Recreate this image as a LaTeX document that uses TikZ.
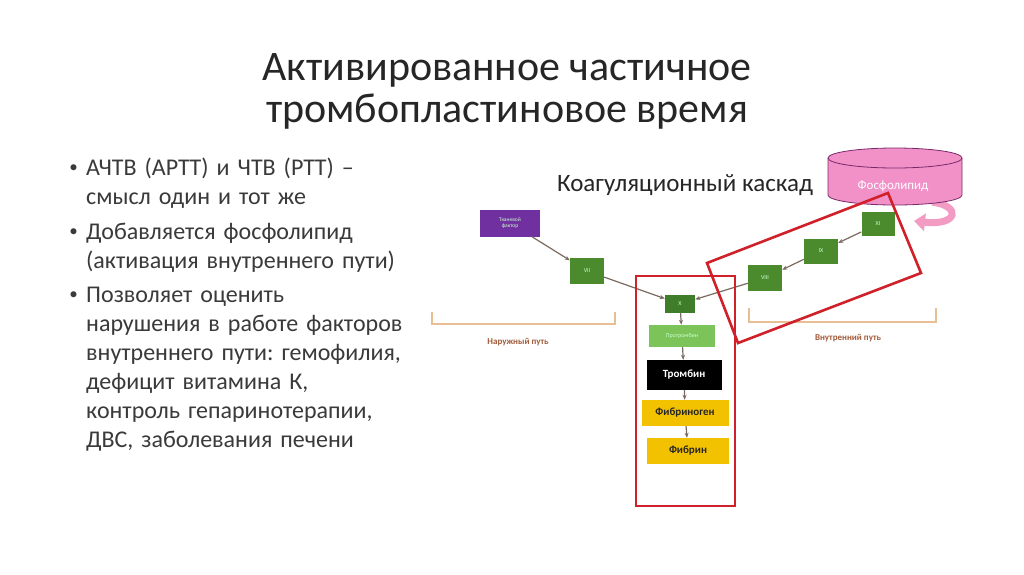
\documentclass[tikz,border=0pt]{standalone}
\usepackage{fontspec}
\setmainfont{Carlito}
\usetikzlibrary{positioning,arrows.meta}
\definecolor{titlec}{HTML}{262626}
\definecolor{textc}{HTML}{3A3A3A}
\definecolor{tfpurple}{HTML}{7030A0}
\definecolor{dgreen}{HTML}{4C8A2E}
\definecolor{xgreen}{HTML}{3F7D2A}
\definecolor{lgreen}{HTML}{7CC35A}
\definecolor{yellowc}{HTML}{F2C200}
\definecolor{redc}{HTML}{D0202A}
\definecolor{arrc}{HTML}{7A6A60}
\definecolor{brkc}{HTML}{E8BE94}
\definecolor{lblc}{HTML}{A35A3A}
\definecolor{phosc}{HTML}{F291C8}
\definecolor{phosd}{HTML}{7A2A6A}
\definecolor{curlc}{HTML}{F29CC4}
\tikzset{
  fac/.style={fill=dgreen, text=white!80!green, inner sep=0pt,
              minimum width=34pt, minimum height=26pt, font=\fontsize{6}{7}\selectfont},
  big/.style={inner sep=0pt, font=\fontsize{11}{12}\selectfont\bfseries},
  arr/.style={draw=arrc, line width=1.2pt, -{Stealth[length=5pt,width=4pt]}},
  redbox/.style={draw=redc, line width=2.6pt},
  brk/.style={draw=brkc, line width=1.6pt},
  pathlbl/.style={text=lblc, font=\fontsize{9}{10}\selectfont\bfseries},
  bul/.style={text=textc, font=\fontsize{24}{29}\selectfont\frenchspacing, text width=340pt,
              align=left, inner sep=0pt, anchor=north west}
}
\begin{document}
\begin{tikzpicture}[x=1pt,y=-1pt]
  \useasboundingbox[fill=white] (0,0) rectangle (1024,574);

  % title and text
  \node[text=titlec, font=\fontsize{42}{42}\selectfont, align=center] (title) at (507,91)
    {Активированное частичное\\тромбопластиновое время};

  \node[bul] (p1) at (86,158) {АЧТВ (АРТТ) и ЧТВ (РТТ) --\\смысл один и тот же};
  \node[bul, below=14pt of p1.south west, anchor=north west] (p2)
    {Добавляется фосфолипид\\(активация внутреннего пути)};
  \node[bul, below=14pt of p2.south west, anchor=north west] (p3)
    {Позволяет оценить\\нарушения в работе факторов\\внутреннего пути: гемофилия,\\дефицит витамина К,\\контроль гепаринотерапии,\\ДВС, заболевания печени};
  \foreach \p in {p1,p2,p3}
    \node[text=textc, font=\fontsize{17}{20}\selectfont, anchor=base east, inner sep=0pt]
      at ([xshift=-8pt,yshift=3pt]\p.base west) {•};

  \node[text=titlec, font=\fontsize{25}{27}\selectfont] (casc) at (685,185)
    {Коагуляционный каскад};

  % phospholipid
  \draw[curlc, line width=7pt, -{Triangle[width=17pt,length=11pt]}]
    (932,202) .. controls (962,206) and (958,226) .. (914,221);
  \fill[phosc] (828,158) -- (828,195) arc[start angle=180, end angle=0, x radius=67, y radius=10]
    -- (962,158) -- cycle;
  \draw[phosd, line width=0.8pt] (828,158) -- (828,195) arc[start angle=180, end angle=0, x radius=67, y radius=10]
    -- (962,158);
  \draw[phosd, line width=0.8pt, fill=phosc] (895,158) ellipse[x radius=67, y radius=10];
  \node[text=white, font=\fontsize{13}{14}\selectfont] (phos) at (893,186) {Фосфолипид};

  % factors
  \node[fac, fill=tfpurple, minimum width=60pt, minimum height=27pt, align=center,
        font=\fontsize{5.5}{6.5}\selectfont] (tf) at (510,223) {Тканевой\\фактор};
  \node[fac] (f7) at (587,271) {VII};
  \node[fac, fill=xgreen, minimum width=30pt, minimum height=18pt] (fx) at (680,304) {X};
  \node[fac, fill=lgreen, minimum width=66pt, minimum height=22pt] (pt) at (682,336) {Протромбин};
  \node[big, fill=black, text=white, minimum width=75pt, minimum height=30pt] (th) at (684,375) {Тромбин};
  \node[big, fill=yellowc, text=black!85, minimum width=87pt, minimum height=26pt] (fg) at (685,413) {Фибриноген};
  \node[big, fill=yellowc, text=black!85, minimum width=82pt, minimum height=26pt] (fb) at (688,451) {Фибрин};
  \node[fac] (f8) at (765,278) {VIII};
  \node[fac, minimum height=25pt] (f9) at (821,251) {IX};
  \node[fac, minimum width=33pt, minimum height=24pt] (f11) at (878,224) {XI};

  \draw[arr] (tf) -- (f7);
  \draw[arr] (f7) -- (fx);
  \draw[arr] (f11) -- (f9);
  \draw[arr] (f9) -- (f8);
  \draw[arr] (f8) -- (fx);
  \draw[arr] (fx) -- (pt);
  \draw[arr] (pt) -- (th);
  \draw[arr] (th) -- (fg);
  \draw[arr] (fg) -- (fb);

  % pathways
  \draw[brk] (432,312) -- (432,324) -- (615,324) -- (615,312);
  \node[pathlbl] (ext) at (518,342) {Наружный путь};
  \draw[brk] (749,308) -- (749,322) -- (936,322) -- (936,308);
  \node[pathlbl] (int) at (848,338) {Внутренний путь};

  % highlights
  \draw[redbox] (636,276) rectangle (735,506);
  \draw[redbox] (707,263) -- (888,193) -- (921,273) -- (738,343) -- cycle;
\end{tikzpicture}
\end{document}
